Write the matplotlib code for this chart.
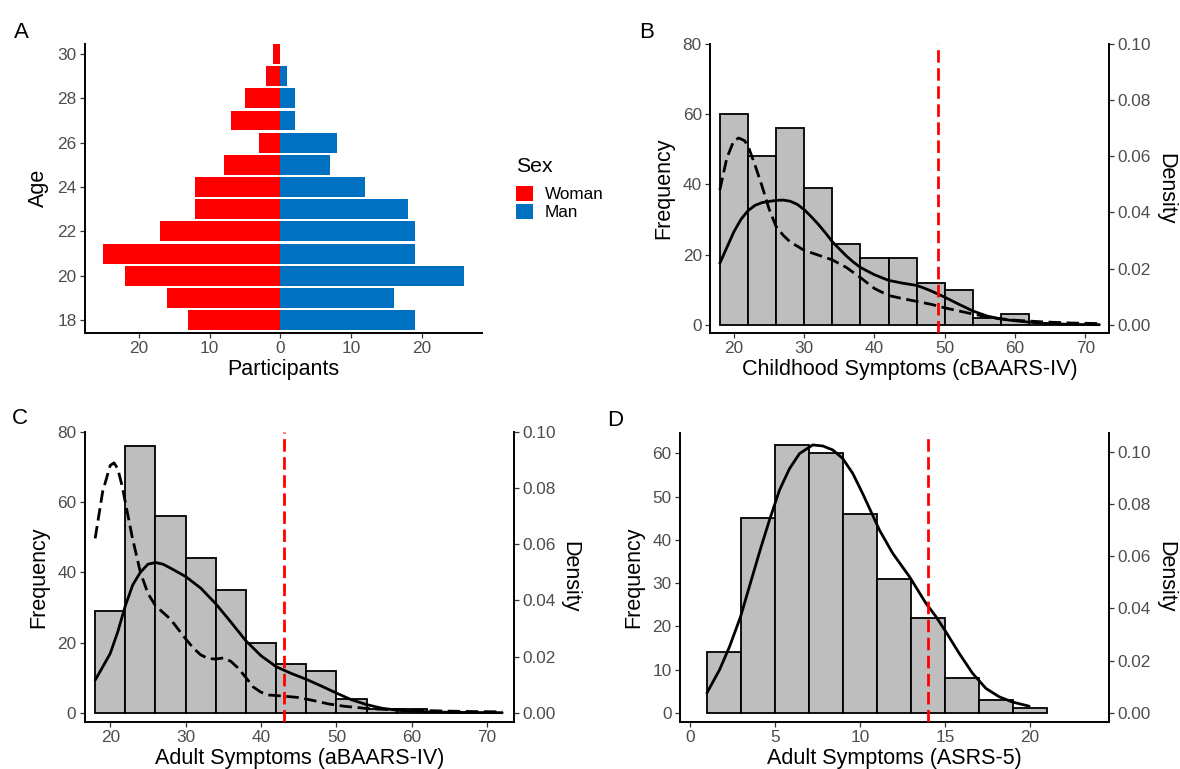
import matplotlib
matplotlib.use("Agg")
import matplotlib.pyplot as plt
from matplotlib.patches import Patch

plt.rcParams['font.family'] = ['Liberation Sans', 'DejaVu Sans']

# ---------------- data ----------------
ages = [18, 19, 20, 21, 22, 23, 24, 25, 26, 27, 28, 29, 30]
women = [13, 16, 22, 25, 17, 12, 12, 8, 3, 7, 5, 2, 1]
men = [19, 16, 26, 19, 19, 18, 12, 7, 8, 2, 2, 1, 0]

baars_bins = [18, 22, 26, 30, 34, 38, 42, 46, 50, 54, 58, 62, 66]
child_counts = [60, 48, 56, 39, 23, 19, 19, 12, 10, 2, 3, 0, 0]
adult_counts = [29, 76, 56, 44, 35, 20, 14, 12, 4, 1, 1, 0, 0]

asrs_bins = [1, 3, 5, 7, 9, 11, 13, 15, 17, 19]
asrs_counts = [14, 45, 62, 60, 46, 31, 22, 8, 3, 1]

# density curves
child_solid_x = [18, 19, 20, 21, 22, 23, 24, 26, 27, 28, 29, 30, 31, 32, 33, 34, 35, 36, 37, 38,
                 40, 42, 44, 46, 47, 48, 50, 52, 54, 56, 58, 60, 62, 64, 66, 68, 72]
child_solid_y = [0.0219, 0.0275, 0.0331, 0.0375, 0.0406, 0.0425, 0.0435, 0.0443, 0.0444, 0.0440,
                 0.0429, 0.0410, 0.0385, 0.0358, 0.0328, 0.0296, 0.0270, 0.0245, 0.0223, 0.0204,
                 0.0178, 0.0158, 0.0148, 0.0140, 0.0131, 0.0121, 0.0098, 0.0073, 0.0049, 0.0031,
                 0.0020, 0.0014, 0.0009, 0.0005, 0.0003, 0.0001, 0.0]
child_dash_x = [18, 19, 20, 20.7, 21.5, 22, 23, 24, 25, 26, 27, 28, 30, 32, 34, 36, 38, 40, 42, 44,
                46, 48, 50, 52, 54, 56, 58, 60, 62, 64, 66, 68, 70, 72]
child_dash_y = [0.0480, 0.0594, 0.0656, 0.0665, 0.0656, 0.0638, 0.0569, 0.0494, 0.0413, 0.0350,
                0.0319, 0.0295, 0.0265, 0.0248, 0.0231, 0.0204, 0.0168, 0.0129, 0.0104, 0.0093,
                0.0083, 0.0073, 0.0060, 0.0049, 0.0038, 0.0028, 0.0021, 0.0016, 0.0013, 0.0010,
                0.0008, 0.0006, 0.0005, 0.0004]

adult_solid_x = [18, 19, 20, 21, 22, 23, 24, 25, 26, 27, 28, 30, 32, 34, 36, 38, 40, 42, 44, 46,
                 48, 50, 52, 54, 56, 58, 60, 62, 66, 72]
adult_solid_y = [0.0116, 0.0163, 0.0211, 0.0288, 0.0381, 0.0456, 0.0500, 0.0529, 0.0535, 0.0529,
                 0.0515, 0.0485, 0.0444, 0.0388, 0.0323, 0.0256, 0.0203, 0.0164, 0.0140, 0.0119,
                 0.0095, 0.0070, 0.0046, 0.0029, 0.0016, 0.0009, 0.0005, 0.0003, 0.0001, 0.0]
adult_dash_x = [18, 19, 20, 20.5, 21, 21.6, 22, 22.9, 24, 25, 26, 28, 30, 31, 32, 33, 34, 35, 36,
                37, 38, 39, 40, 41, 43, 45, 47, 49, 51, 54, 57, 60, 64, 68, 72]
adult_dash_y = [0.0621, 0.0788, 0.0881, 0.0890, 0.0869, 0.0805, 0.0750, 0.0628, 0.0500, 0.0425,
                0.0381, 0.0333, 0.0263, 0.0231, 0.0206, 0.0193, 0.0191, 0.0195, 0.0183, 0.0158,
                0.0125, 0.0091, 0.0073, 0.0063, 0.0059, 0.0054, 0.0043, 0.0031, 0.0023, 0.0015,
                0.0011, 0.0009, 0.0006, 0.0004, 0.0003]

asrs_x = [1.0, 1.74, 2.33, 2.98, 3.61, 4.19, 4.68, 5.27, 5.86, 6.45, 7.23, 7.82, 8.4, 8.99, 9.58,
          10.17, 10.75, 11.15, 11.93, 12.91, 13.89, 14.48, 15.06, 15.85, 16.63, 17.42, 18.2,
          18.98, 19.96]
asrs_y = [0.0076, 0.0164, 0.0253, 0.0368, 0.0508, 0.0636, 0.0738, 0.0853, 0.0935, 0.0993, 0.1026,
          0.1022, 0.1007, 0.0974, 0.0917, 0.0839, 0.0757, 0.0700, 0.0611, 0.0522, 0.0419, 0.0368,
          0.0310, 0.0227, 0.0151, 0.0093, 0.0061, 0.0041, 0.0025]

cutoffs = {'B': 49, 'C': 43, 'D': 14}

# ---------------- style ----------------
W, H = 1180, 769
TICK_FS = 12.4
TITLE_FS = 15.5
TICK_COL = '#4D4D4D'
RED = '#FF0000'
BLUE = '#0070C0'
GRAY = '#BEBEBE'
DASH = (0, (4.5, 2))

fig = plt.figure(figsize=(W / 100, H / 100), dpi=100)


def axes_px(left, right, top, bottom):
    return fig.add_axes([left / W, 1 - bottom / H, (right - left) / W, (bottom - top) / H])


def style(ax, right=False):
    for s in ['top', 'right', 'left', 'bottom']:
        ax.spines[s].set_visible(False)
    if right:
        ax.spines['right'].set_visible(True)
        ax.spines['right'].set_linewidth(1.4)
    else:
        ax.spines['left'].set_visible(True)
        ax.spines['bottom'].set_visible(True)
        ax.spines['left'].set_linewidth(1.4)
        ax.spines['bottom'].set_linewidth(1.4)
    ax.tick_params(direction='out', length=3.5, width=0.9, color='#333333',
                   labelsize=TICK_FS, labelcolor=TICK_COL, pad=2.5)
    ax.set_facecolor('none')


# ---------------- Panel A ----------------
axA = axes_px(85, 482.2, 44, 332.7)
axA.barh(ages, [-w for w in women], height=0.9, color=RED, linewidth=0)
axA.barh(ages, men, height=0.9, color=BLUE, linewidth=0)
axA.set_xlim(-27.6, 28.5)
axA.set_ylim(17.43, 30.45)
axA.set_yticks([18, 20, 22, 24, 26, 28, 30])
axA.set_xticks([-20, -10, 0, 10, 20])
axA.set_xticklabels(['20', '10', '0', '10', '20'])
style(axA)
axA.set_xlabel('Participants', fontsize=TITLE_FS, labelpad=2)
axA.set_ylabel('Age', fontsize=TITLE_FS, labelpad=6)

handles = [Patch(facecolor=RED, edgecolor='none', label='Woman'),
           Patch(facecolor=BLUE, edgecolor='none', label='Man')]
fig.text(516 / W, 1 - 171.5 / H, 'Sex', fontsize=15.3, ha='left', va='baseline')
leg = fig.legend(handles=handles, loc='upper left',
                 bbox_to_anchor=(516 / W, 1 - 186 / H), frameon=False,
                 fontsize=12.3, handlelength=1.0, handleheight=0.95,
                 handletextpad=0.7, labelspacing=0.1, borderpad=0, borderaxespad=0)


# ---------------- histogram panels ----------------
def hist_panel(box, bins, counts, bw, xlim, ylim, scale, curves, cutoff, xlabel, xticks, yticks):
    ax = axes_px(*box)
    ax.bar(bins, counts, width=bw, align='edge', color=GRAY, edgecolor='black', linewidth=1.3,
           zorder=2)
    ax.set_xlim(*xlim)
    ax.set_ylim(*ylim)
    ax.set_xticks(xticks)
    ax.set_yticks(yticks)
    style(ax)
    ax.set_xlabel(xlabel, fontsize=TITLE_FS, labelpad=2)
    ax.set_ylabel('Frequency', fontsize=TITLE_FS, labelpad=6)

    ax2 = ax.twinx()
    ax2.set_ylim(ylim[0] / scale, ylim[1] / scale)
    ax2.set_yticks([0, 0.02, 0.04, 0.06, 0.08, 0.10])
    ax2.set_yticklabels(['0.00', '0.02', '0.04', '0.06', '0.08', '0.10'])
    style(ax2, right=True)
    ax2.set_ylabel('Density', fontsize=TITLE_FS, rotation=270, labelpad=18)
    for (cx, cy, ls) in curves:
        ax2.plot(cx, cy, color='black', linewidth=2.0, linestyle=ls, zorder=3,
                 solid_capstyle='round', solid_joinstyle='round', dash_capstyle='butt')
    ax2.axvline(cutoff, color=RED, linewidth=2.0, linestyle=DASH, zorder=4)
    return ax, ax2


hist_panel((710.2, 1109, 44, 332.7), baars_bins, child_counts, 4, (16.63, 73.37), (-2.28, 80),
           800, [(child_solid_x, child_solid_y, '-'), (child_dash_x, child_dash_y, DASH)],
           cutoffs['B'], 'Childhood Symptoms (cBAARS-IV)', [20, 30, 40, 50, 60, 70],
           [0, 20, 40, 60, 80])

hist_panel((84.6, 513.9, 432, 721.7), baars_bins, adult_counts, 4, (16.6, 73.55), (-2.57, 80),
           800, [(adult_solid_x, adult_solid_y, '-'), (adult_dash_x, adult_dash_y, DASH)],
           cutoffs['C'], 'Adult Symptoms (aBAARS-IV)', [20, 30, 40, 50, 60, 70],
           [0, 20, 40, 60, 80])

hist_panel((679.9, 1109, 432.7, 721.7), asrs_bins, asrs_counts, 2, (-0.59, 24.66), (-2.08, 64.8),
           604, [(asrs_x, asrs_y, '-')],
           cutoffs['D'], 'Adult Symptoms (ASRS-5)', [0, 5, 10, 15, 20],
           [0, 10, 20, 30, 40, 50, 60])

# panel labels
for lab, x, y in [('A', 14, 38), ('B', 639, 38), ('C', 12, 424), ('D', 607, 426)]:
    fig.text(x / W, 1 - y / H, lab, fontsize=16, va='baseline', ha='left')

fig.savefig('out.png', dpi=100)
